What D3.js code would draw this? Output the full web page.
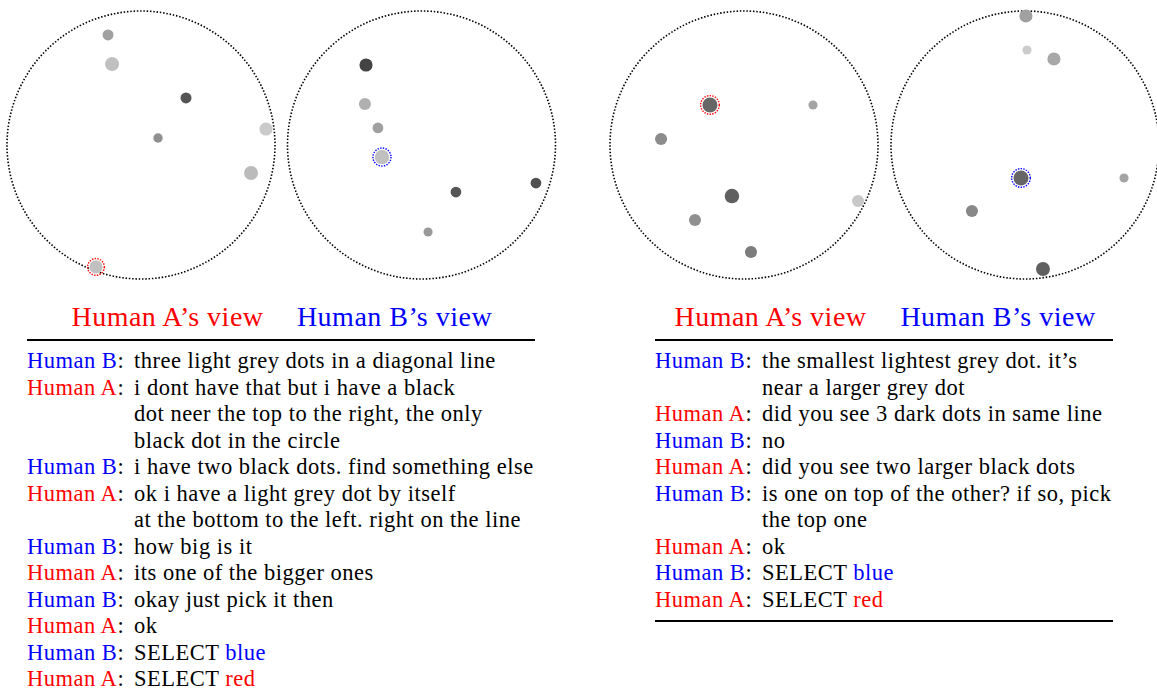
<!DOCTYPE html>
<html lang="en">
<head>
<meta charset="utf-8">
<title>Human A / Human B dot dialogues</title>
<script src="https://cdn.jsdelivr.net/npm/d3@7"></script>
<style>
  body { margin: 0; background: #fff; }
  text { font-family: "Liberation Serif", "Times New Roman", serif; }
</style>
</head>
<body>
<script>
// board dots: u,v = position relative to the board centre (board radius = 1),
// s = dot radius in % of board radius, g = grey level
var board1 = [
  {u: -0.246, v: -0.821, s: 4.1, g: 160},
  {u: -0.216, v: -0.604, s: 5.2, g: 192},
  {u:  0.336, v: -0.351, s: 4.1, g: 85},
  {u:  0.127, v: -0.052, s: 3.5, g: 144},
  {u:  0.933, v: -0.119, s: 4.9, g: 202},
  {u:  0.821, v:  0.209, s: 5.2, g: 187},
  {u: -0.336, v:  0.910, s: 4.9, g: 192}
];
var board2 = [
  {u: -0.414, v: -0.597, s: 4.9, g: 68},
  {u: -0.422, v: -0.306, s: 4.5, g: 176},
  {u: -0.325, v: -0.127, s: 4.0, g: 160},
  {u: -0.295, v:  0.090, s: 5.4, g: 192},
  {u:  0.257, v:  0.351, s: 4.0, g: 85},
  {u:  0.854, v:  0.284, s: 4.0, g: 80},
  {u:  0.049, v:  0.649, s: 3.4, g: 153}
];
var board3 = [
  {u: -0.254, v: -0.299, s: 5.6, g: 102},
  {u:  0.515, v: -0.299, s: 3.4, g: 164},
  {u: -0.619, v: -0.045, s: 4.5, g: 140},
  {u: -0.090, v:  0.381, s: 5.4, g: 96},
  {u: -0.366, v:  0.560, s: 4.5, g: 144},
  {u:  0.052, v:  0.799, s: 4.5, g: 124},
  {u:  0.851, v:  0.418, s: 4.5, g: 200}
];
var board4 = [
  {u:  0.007, v: -0.963, s: 4.9, g: 160},
  {u:  0.015, v: -0.709, s: 3.4, g: 204},
  {u:  0.216, v: -0.642, s: 4.9, g: 168},
  {u: -0.030, v:  0.246, s: 5.6, g: 102},
  {u:  0.739, v:  0.246, s: 3.4, g: 164},
  {u: -0.396, v:  0.493, s: 4.5, g: 136},
  {u:  0.134, v:  0.925, s: 5.2, g: 96}
];

// which dot each player selected, and who
var boardDots = [board1, board2, board3, board4];
var boardSelected = [6, 3, 0, 3];
var boardOwner = ["A", "B", "A", "B"];

var viewTitles = ["Human A\u2019s view", "Human B\u2019s view"];

// dialogues: speaker, lines of text, optional coloured last word
var dialogue1 = [
  {who: "B", lines: ["three light grey dots in a diagonal line"]},
  {who: "A", lines: ["i dont have that but i have a black", "dot neer the top to the right, the only", "black dot in the circle"]},
  {who: "B", lines: ["i have two black dots. find something else"]},
  {who: "A", lines: ["ok i have a light grey dot by itself", "at the bottom to the left. right on the line"]},
  {who: "B", lines: ["how big is it"]},
  {who: "A", lines: ["its one of the bigger ones"]},
  {who: "B", lines: ["okay just pick it then"]},
  {who: "A", lines: ["ok"]},
  {who: "B", lines: ["SELECT"], tail: "blue"},
  {who: "A", lines: ["SELECT"], tail: "red"}
];
var dialogue2 = [
  {who: "B", lines: ["the smallest lightest grey dot. it\u2019s", "near a larger grey dot"]},
  {who: "A", lines: ["did you see 3 dark dots in same line"]},
  {who: "B", lines: ["no"]},
  {who: "A", lines: ["did you see two larger black dots"]},
  {who: "B", lines: ["is one on top of the other? if so, pick", "the top one"]},
  {who: "A", lines: ["ok"]},
  {who: "B", lines: ["SELECT"], tail: "blue"},
  {who: "A", lines: ["SELECT"], tail: "red"}
];

var w = 1157, h = 697;
var red = "#ff0000", blue = "#0000ff";
var who = {A: {name: "Human A", color: red}, B: {name: "Human B", color: blue}};

var svg = d3.select("body").append("svg")
  .attr("width", w)
  .attr("height", h);

// board layout
var boardCx = [141, 421.5, 744, 1025];
var boardCy = 145;
var boardR = 134;

boardDots.forEach(function(dots, i) {
  var x = d3.scaleLinear().domain([-1, 1]).range([boardCx[i] - boardR, boardCx[i] + boardR]);
  var y = d3.scaleLinear().domain([-1, 1]).range([boardCy - boardR, boardCy + boardR]);
  var rs = d3.scaleLinear().domain([0, 100]).range([0, boardR]);
  var g = svg.append("g");

  g.append("circle")
    .attr("cx", x(0)).attr("cy", y(0)).attr("r", boardR)
    .attr("fill", "none")
    .attr("stroke", "#000")
    .attr("stroke-width", 1.6)
    .attr("stroke-dasharray", "1.5 1.8");

  g.selectAll("circle.dot")
    .data(dots)
    .enter().append("circle")
    .attr("class", "dot")
    .attr("cx", function(d) { return x(d.u); })
    .attr("cy", function(d) { return y(d.v); })
    .attr("r", function(d) { return rs(d.s); })
    .attr("fill", function(d) { return d3.rgb(d.g, d.g, d.g); });

  var sel = dots[boardSelected[i]];
  g.append("circle")
    .attr("cx", x(sel.u)).attr("cy", y(sel.v)).attr("r", rs(sel.s) + 1.8)
    .attr("fill", "none")
    .attr("stroke", who[boardOwner[i]].color)
    .attr("stroke-width", 1.4)
    .attr("stroke-dasharray", "1.4 1.3");
});

// text panels
var panels = [
  {x0: 27, x1: 535, textX: 134, titleX: [167.5, 394.5], dialogue: dialogue1, bottomRule: false},
  {x0: 655, x1: 1113, textX: 762, titleX: [770.5, 998], dialogue: dialogue2, bottomRule: true}
];

var lineY = d3.scaleLinear().domain([0, 1]).range([368, 394.5]);

panels.forEach(function(p) {
  var g = svg.append("g");

  g.selectAll("text.title")
    .data(viewTitles)
    .enter().append("text")
    .attr("class", "title")
    .attr("x", function(d, i) { return p.titleX[i]; })
    .attr("y", 326)
    .attr("text-anchor", "middle")
    .attr("font-size", 28)
    .attr("letter-spacing", 0.5)
    .attr("fill", function(d, i) { return i == 0 ? red : blue; })
    .text(function(d) { return d; });

  g.append("line")
    .attr("x1", p.x0).attr("x2", p.x1)
    .attr("y1", 340).attr("y2", 340)
    .attr("stroke", "#000").attr("stroke-width", 2);

  var row = 0;
  p.dialogue.forEach(function(turn) {
    var label = g.append("text")
      .attr("x", p.x0).attr("y", lineY(row))
      .attr("font-size", 22.5)
      .attr("letter-spacing", 0.5);
    label.append("tspan").attr("fill", who[turn.who].color).text(who[turn.who].name);
    label.append("tspan").attr("fill", "#000").text(":");

    turn.lines.forEach(function(line, k) {
      var t = g.append("text")
        .attr("x", p.textX).attr("y", lineY(row))
        .attr("font-size", 22.5)
        .attr("letter-spacing", 0.5)
        .attr("fill", "#000")
        .text(line);
      if (turn.tail && k == turn.lines.length - 1) {
        t.append("tspan")
          .attr("fill", turn.tail == "red" ? red : blue)
          .text(" " + turn.tail);
      }
      row++;
    });
  });

  if (p.bottomRule) {
    g.append("line")
      .attr("x1", p.x0).attr("x2", p.x1)
      .attr("y1", 621).attr("y2", 621)
      .attr("stroke", "#000").attr("stroke-width", 2);
  }
});
</script>
</body>
</html>
